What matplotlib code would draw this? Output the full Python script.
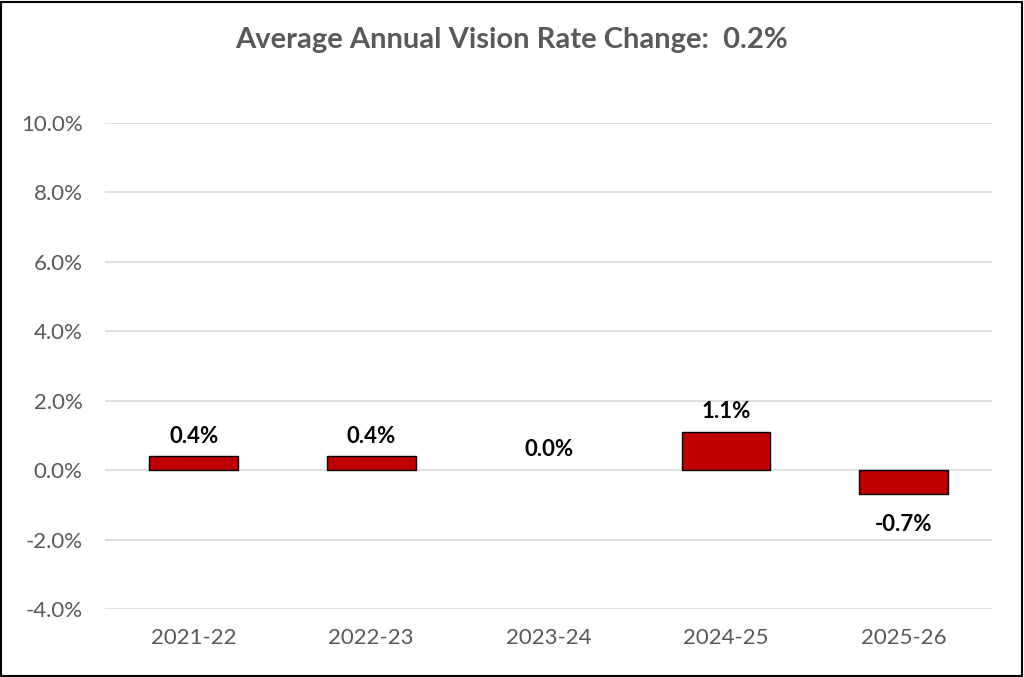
import matplotlib.pyplot as plt
from matplotlib.patches import Rectangle

# vision rate changes by plan year (percent)
years = ["2021-22", "2022-23", "2023-24", "2024-25", "2025-26"]
rate_change = [0.4, 0.4, 0.0, 1.1, -0.7]
avg_change = 0.2

plt.rcParams['font.family'] = ['Lato', 'DejaVu Sans']

fig = plt.figure(figsize=(10.24, 6.77), dpi=100)
ax = fig.add_axes([0.1025, 0.1004, 0.8665, 0.7179])

x = range(len(years))
# Excel doesn't draw an outline for a zero-height bar
edges = ["none" if v == 0 else "black" for v in rate_change]
ax.bar(x, rate_change, width=0.5, color="#C00000", edgecolor=edges, linewidth=1, zorder=3)

# data labels above positive bars, below negative ones
for i, v in enumerate(rate_change):
    if v >= 0:
        ax.annotate(f"{v:.1f}%", (i, v), xytext=(0, 7), textcoords="offset points",
                    ha="center", va="bottom", fontsize=16, fontweight="bold", color="black")
    else:
        ax.annotate(f"{v:.1f}%", (i, v), xytext=(0, -14), textcoords="offset points",
                    ha="center", va="top", fontsize=16, fontweight="bold", color="black")

ax.set_xlim(-0.5, len(years) - 0.5)
ax.set_ylim(-4, 10)
ax.set_yticks(range(-4, 11, 2))
ax.set_yticklabels([f"{t:.1f}%" for t in range(-4, 11, 2)])
ax.set_xticks(list(x))
ax.set_xticklabels(years)
ax.tick_params(axis="both", length=0, labelsize=16, labelcolor="#595959")
ax.tick_params(axis="y", pad=16)
ax.tick_params(axis="x", pad=14)
ax.grid(axis="y", color="#d9d9d9", linewidth=1.2, zorder=0)
for s in ax.spines.values():
    s.set_visible(False)

fig.text(0.5, 0.941, f"Average Annual Vision Rate Change:  {avg_change:.1f}%", ha="center", va="center",
         fontsize=21, fontweight="bold", color="#595959")

# black frame around the whole picture
fig.patches.append(Rectangle((0.001, 0.001), 0.997, 0.996, transform=fig.transFigure,
                             fill=False, edgecolor="black", linewidth=1.5))

fig.savefig("out.png", dpi=100)
